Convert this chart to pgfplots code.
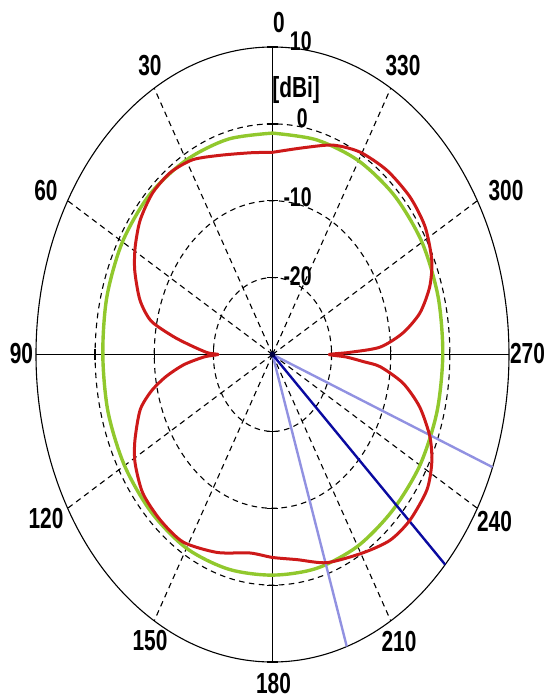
\documentclass[border=0pt]{standalone}
\usepackage{fontspec}
\setmainfont{Liberation Sans}[FakeStretch=0.72]
\usepackage{pgfplots}
\usepackage{pgfplotstable}
\pgfplotsset{compat=1.18}

\definecolor{patred}{RGB}{205,25,25}
\definecolor{patgreen}{RGB}{145,200,45}
\definecolor{beamblue}{RGB}{10,10,160}
\definecolor{beamlight}{RGB}{145,145,225}

% angle (deg, counter-clockwise from top) and gain (dBi)
\pgfplotstableread{
ang dB
0 -3.7
8 -3.5
19 -2.6
28 -1.3
36 -0.7
44 -0.8
52 -1.6
59 -2.9
65 -4.3
72.5 -6.5
78 -9.0
82 -13.0
85 -16.0
88.8 -19.0
90 -20.8
91.5 -18.5
95 -15.0
99 -11.8
103 -9.0
107.8 -6.5
115.6 -4.2
121.3 -2.8
129.4 -1.6
138.5 -1.3
148.2 -1.3
160 -2.6
171.6 -3.9
180 -3.6
188.8 -3.0
198.8 -1.4
210.7 0.0
219.5 1.3
227.2 1.7
236 1.5
242.4 0.4
248.1 -1.3
254.7 -4.2
260.4 -7.6
265 -11.7
266.5 -14.5
268.5 -17.5
270 -20.4
271.2 -17.0
273 -11.8
277.2 -7.8
282.2 -4.5
288.3 -2.0
294.5 -0.4
302.8 0.7
311.4 1.0
321.1 0.8
330.7 0.2
339.4 -0.9
349 -2.6
360 -3.7
}\redtab

\pgfplotstableread{
ang dB
0 -1.2
15 -1.0
30 -0.8
45 -0.6
60 -0.7
75 -1.0
90 -1.3
105 -1.2
120 -1.1
135 -1.0
150 -0.9
165 -1.1
180 -1.3
195 -1.2
210 -1.2
225 -1.3
240 -1.2
255 -1.2
270 -1.2
285 -1.0
300 -0.8
315 -0.8
330 -0.9
345 -1.1
360 -1.2
}\greentab

\pgfplotstableread{
ang dB
226.9 -30
226.9 10
}\beammain
\pgfplotstableread{
ang dB
248.5 -30
248.5 10
}\beamhigh
\pgfplotstableread{
ang dB
198.3 -30
198.3 10
}\beamlow

% polar (angle, dBi) -> plane, centre at -30 dBi
\pgfplotsset{/pgfplots/table/polar dB/.style={
  x expr={-(\thisrow{dB}+30)*sin(\thisrow{ang})},
  y expr={(\thisrow{dB}+30)*cos(\thisrow{ang})}}}

\begin{document}
\begin{tikzpicture}[
  pxgrid/.style={x=0.5pt, y=-0.5pt, shift={(-136.25pt,177.25pt)}},
  gridd/.style={line width=0.55pt, dash pattern=on 2.8pt off 2.2pt},
  alab/.style={inner sep=0pt, font=\fontsize{14.5}{16}\selectfont\bfseries},
  rlab/.style={inner sep=0pt, anchor=east, font=\fontsize{13.5}{15}\selectfont\bfseries}]

% grid
\begin{scope}[pxgrid]
  \foreach \t in {30,60,120,150,210,240,300,330}
    \draw[gridd] (272.5,354.5) -- ++({236.5*cos(\t+90)},{-307.5*sin(\t+90)});
  \draw[gridd] (272.5,354.5) ellipse [x radius=177.4, y radius=230.6];
  \draw[gridd] (272.5,354.5) ellipse [x radius=118.25, y radius=153.75];
  \draw[gridd] (272.5,354.5) ellipse [x radius=59.1, y radius=76.9];
  \draw[line width=0.55pt] (272.5,354.5) ellipse [x radius=236.5, y radius=307.5];
  \draw[line width=0.7pt] (36,354.5) -- (509,354.5);
  \draw[line width=0.7pt] (272.5,47) -- (272.5,662);
  \foreach \d in {59.1,118.25,177.4} {
    \draw[line width=0.6pt] (272.5+\d,349) -- (272.5+\d,360);
    \draw[line width=0.6pt] (272.5-\d,349) -- (272.5-\d,360);
  }
  \foreach \d in {76.9,153.75,230.6,307.5} {
    \draw[line width=0.6pt] (267,354.5-\d) -- (278,354.5-\d);
    \draw[line width=0.6pt] (267,354.5+\d) -- (278,354.5+\d);
  }
\end{scope}

\begin{axis}[name=pol, at={(0,0)}, anchor=center, scale only axis,
  width=236.5pt, height=307.5pt,
  xmin=-40, xmax=40, ymin=-40, ymax=40,
  hide axis, clip=false]
  \addplot[patgreen, line width=1.7pt, no markers, smooth] table[polar dB] {\greentab};
  \addplot[beamlight, line width=1.2pt, no markers] table[polar dB] {\beamhigh};
  \addplot[beamlight, line width=1.2pt, no markers] table[polar dB] {\beamlow};
  \addplot[beamblue, line width=1.2pt, no markers] table[polar dB] {\beammain};
  \addplot[patred, line width=1.5pt, no markers, smooth, tension=0.45, line join=round] table[polar dB] {\redtab};
\end{axis}

\begin{scope}[pxgrid]
  \fill[black!75!blue] (272.5,354.5) circle [radius=3];
  % angle labels
  \node[alab] at (279,23) {0};
  \node[alab] at (150,66) {30};
  \node[alab] at (403,66) {330};
  \node[alab] at (46,191) {60};
  \node[alab] at (506,191) {300};
  \node[alab] at (21.5,354) {90};
  \node[alab] at (527.5,354) {270};
  \node[alab] at (46,519) {120};
  \node[alab] at (494.5,522) {240};
  \node[alab] at (150,641) {150};
  \node[alab] at (399,642) {210};
  \node[alab] at (273.5,684) {180};
  % ring labels
  \node[rlab] at (312,41) {10};
  \node[alab, anchor=west] at (272,90) {[dBi]};
  \node[rlab] at (308,118) {0};
  \node[rlab] at (312,197) {-10};
  \node[rlab] at (312,276) {-20};
\end{scope}

\pgfresetboundingbox
\begin{scope}[pxgrid]
  \path[use as bounding box] (0,0) rectangle (547,698);
\end{scope}
\end{tikzpicture}
\end{document}
